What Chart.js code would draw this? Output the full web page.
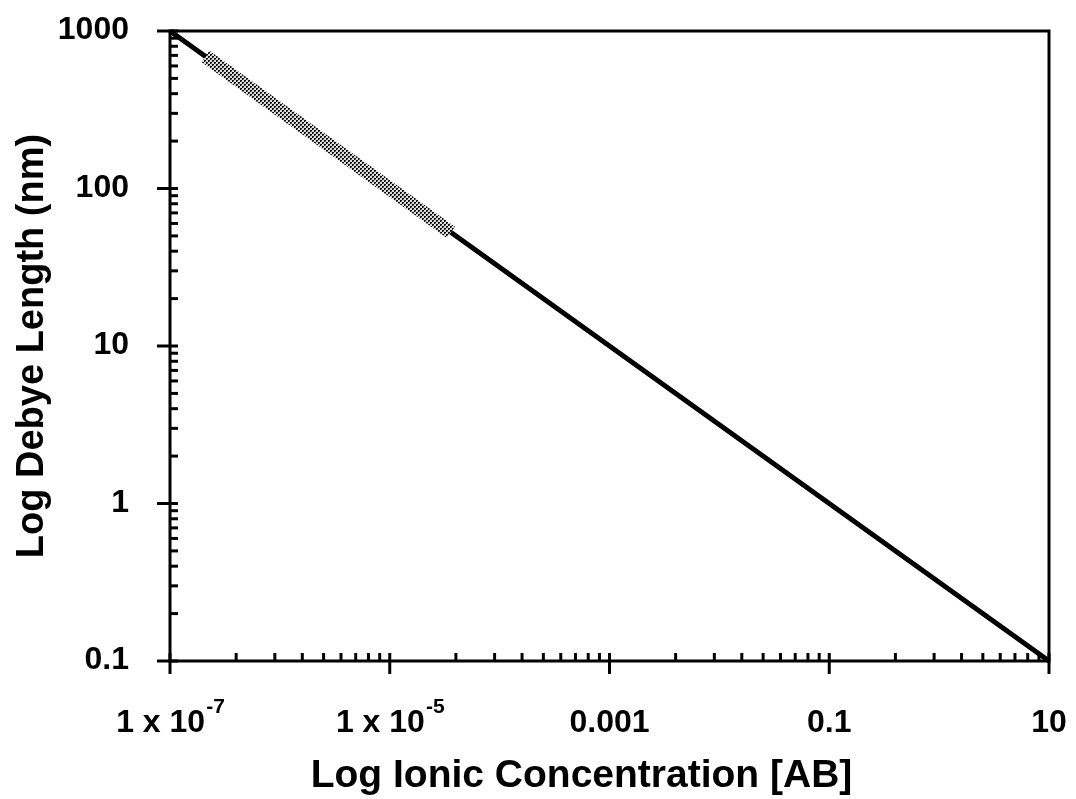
<!DOCTYPE html>
<html>
<head>
<meta charset="utf-8">
<script src="https://cdn.jsdelivr.net/npm/chart.js@4/dist/chart.umd.min.js"></script>
<style>
  html, body { margin: 0; padding: 0; background: #fff; }
  #contenedor { width: 1076px; height: 799px; }
</style>
</head>
<body>
<div id="contenedor"><canvas id="chart-debye"></canvas></div>
<script>
// Datos
const concentracion = [1e-7, 1e-6, 1e-5, 1e-4, 0.001, 0.01, 0.1, 1, 10];
const longitudDebye = [1000, 316, 100, 31.6, 10, 3.16, 1, 0.316, 0.1];

// Tramo resaltado
const rangoConc = [2.1e-7, 3.6e-5];
const rangoDebye = [690, 52.7];

// Marcas de los ejes
const ticksX = [1e-7, 1e-5, 0.001, 0.1, 10];
const etiquetasX = [['1 x 10', '-7'], ['1 x 10', '-5'], ['0.001', ''], ['0.1', ''], ['10', '']];
const ticksY = [0.1, 1, 10, 100, 1000];
const etiquetasY = ['0.1', '1', '10', '100', '1000'];
const tituloX = 'Log Ionic Concentration [AB]';

const fuente = "'Liberation Sans', Arial, sans-serif";

function crearPatron() {
  const c = document.createElement('canvas');
  c.width = 4;
  c.height = 4;
  const g = c.getContext('2d');
  g.fillStyle = '#dcdcdc';
  g.fillRect(0, 0, 4, 4);
  g.fillStyle = '#111111';
  g.fillRect(0, 0, 2, 2);
  g.fillRect(2, 2, 2, 2);
  g.fillStyle = '#777777';
  g.fillRect(1, 1, 1, 1);
  g.fillRect(3, 3, 1, 1);
  return g.createPattern(c, 'repeat');
}

function linea(ctx, x1, y1, x2, y2) {
  ctx.beginPath();
  ctx.moveTo(x1, y1);
  ctx.lineTo(x2, y2);
  ctx.stroke();
}

// Marco, marcas de ejes y etiquetas (con exponente en X)
const marcasEjes = {
  id: 'marcasEjes',
  afterDraw(chart) {
    const { ctx, chartArea: a, scales: { x, y } } = chart;
    ctx.save();
    ctx.strokeStyle = '#000';
    ctx.lineWidth = 3;
    ctx.lineCap = 'butt';
    ctx.strokeRect(a.left, a.top, a.right - a.left, a.bottom - a.top);

    ticksX.forEach((v, i) => {
      const px = x.getPixelForValue(v);
      linea(ctx, px, a.bottom - 8, px, a.bottom + 13);
      if (i < ticksX.length - 1) {
        const razon = ticksX[i + 1] / v;
        for (let n = 2; n <= 9; n++) {
          const pm = x.getPixelForValue(v * Math.pow(razon, Math.log10(n)));
          linea(ctx, pm, a.bottom - 8, pm, a.bottom);
        }
      }
    });

    ticksY.forEach((v, i) => {
      const py = y.getPixelForValue(v);
      linea(ctx, a.left - 13, py, a.left + 8, py);
      if (i < ticksY.length - 1) {
        const razon = ticksY[i + 1] / v;
        for (let n = 2; n <= 9; n++) {
          const pm = y.getPixelForValue(v * Math.pow(razon, Math.log10(n)));
          linea(ctx, a.left, pm, a.left + 8, pm);
        }
      }
    });

    ctx.fillStyle = '#000';

    // etiquetas Y
    ctx.font = 'bold 32px ' + fuente;
    ctx.textAlign = 'right';
    ctx.textBaseline = 'alphabetic';
    etiquetasY.forEach((et, i) => {
      const py = y.getPixelForValue(ticksY[i]);
      ctx.fillText(et, a.left - 41, py + 8);
    });

    // etiquetas X
    ctx.textAlign = 'left';
    const base = a.bottom + 71;
    etiquetasX.forEach((et, i) => {
      const px = x.getPixelForValue(ticksX[i]);
      ctx.font = 'bold 32px ' + fuente;
      const w1 = ctx.measureText(et[0]).width;
      ctx.font = 'bold 21px ' + fuente;
      const w2 = et[1] ? ctx.measureText(et[1]).width : 0;
      const x0 = px - (w1 + w2) / 2;
      ctx.font = 'bold 32px ' + fuente;
      ctx.fillText(et[0], x0, base);
      if (et[1]) {
        ctx.font = 'bold 21px ' + fuente;
        ctx.fillText(et[1], x0 + w1 + 1, base - 19);
      }
    });

    // titulo X (un poco a la izquierda del centro, como en el original)
    ctx.font = 'bold 39px ' + fuente;
    ctx.textAlign = 'center';
    ctx.fillText(tituloX, (a.left + a.right) / 2 - 28, a.bottom + 126);
    ctx.restore();
  }
};

const ctx = document.getElementById('chart-debye');

new Chart(ctx, {
  type: 'scatter',
  data: {
    datasets: [{
      label: 'Rango',
      data: rangoConc.map((c, i) => ({ x: c, y: rangoDebye[i] })),
      showLine: true,
      borderColor: crearPatron(),
      borderWidth: 14,
      borderCapStyle: 'butt',
      pointRadius: 0,
      tension: 0,
    }, {
      label: 'Longitud de Debye',
      data: concentracion.map((c, i) => ({ x: c, y: longitudDebye[i] })),
      showLine: true,
      borderColor: '#000',
      borderWidth: 5,
      pointRadius: 0,
      tension: 0,
      clip: false,
    }]
  },
  options: {
    responsive: true,
    maintainAspectRatio: false,
    animation: false,
    events: [],
    layout: {
      padding: { top: 31, right: 27, bottom: 0, left: 0 }
    },
    plugins: {
      legend: { display: false },
      tooltip: { enabled: false }
    },
    scales: {
      x: {
        type: 'logarithmic',
        min: 1e-7,
        max: 10,
        afterBuildTicks: s => { s.ticks = ticksX.map(v => ({ value: v })); },
        afterFit: s => { s.height = 138; },
        grid: { display: false, drawTicks: false },
        border: { display: false },
        ticks: { display: false },
        title: { display: false }
      },
      y: {
        type: 'logarithmic',
        min: 0.1,
        max: 1000,
        afterBuildTicks: s => { s.ticks = ticksY.map(v => ({ value: v })); },
        afterFit: s => { s.width = 170; },
        grid: { display: false, drawTicks: false },
        border: { display: false },
        ticks: { display: false },
        title: {
          display: true,
          text: 'Log Debye Length (nm)',
          color: '#000',
          font: { family: fuente, size: 38, weight: 'bold' },
          padding: { top: 10, bottom: 0 }
        }
      }
    }
  },
  plugins: [marcasEjes]
});
</script>
</body>
</html>
